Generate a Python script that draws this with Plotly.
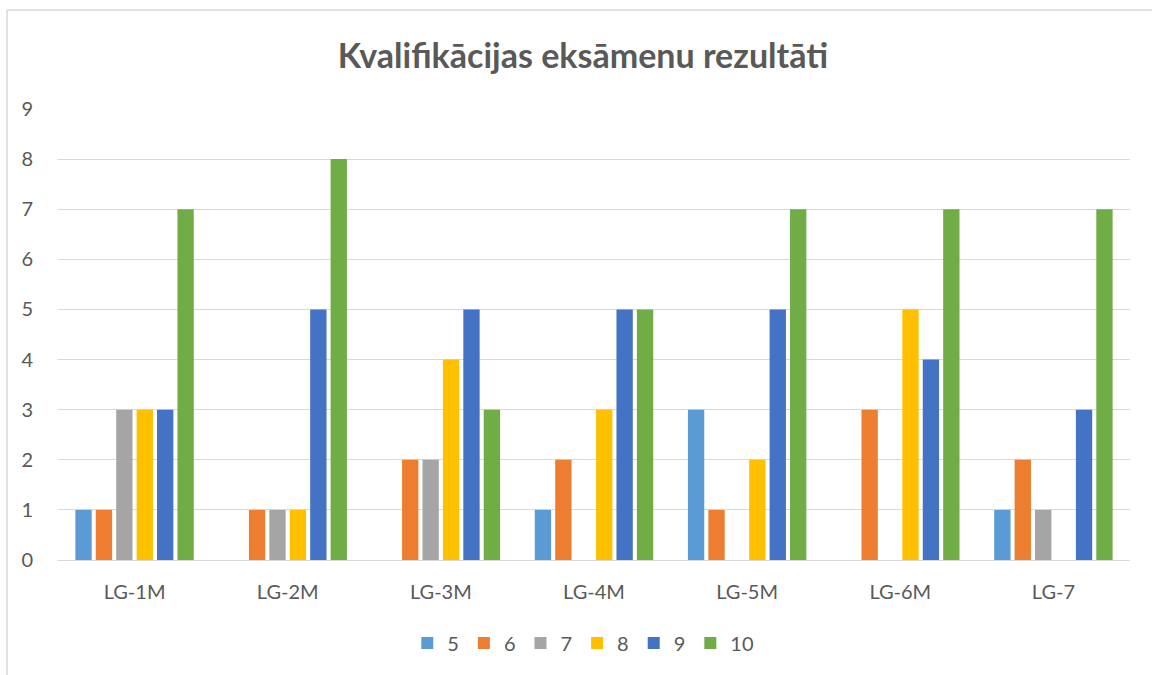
import plotly.graph_objects as go

categories = ["LG-1M", "LG-2M", "LG-3M", "LG-4M", "LG-5M", "LG-6M", "LG-7"]
series_names = ["5", "6", "7", "8", "9", "10"]
values_5 = [1, 0, 0, 1, 3, 0, 1]
values_6 = [1, 1, 2, 2, 1, 3, 2]
values_7 = [3, 1, 2, 0, 0, 0, 1]
values_8 = [3, 1, 4, 3, 2, 5, 0]
values_9 = [3, 5, 5, 5, 5, 4, 3]
values_10 = [7, 8, 3, 5, 7, 7, 7]
colors = ["#5B9BD5", "#ED7D31", "#A5A5A5", "#FFC000", "#4472C4", "#70AD47"]
title_text = "Kvalifikācijas eksāmenu rezultāti"

all_values = [values_5, values_6, values_7, values_8, values_9, values_10]

fig = go.Figure()
for name, vals, col in zip(series_names, all_values, colors):
    fig.add_trace(go.Bar(x=categories, y=vals, name=name, marker=dict(color=col, line=dict(width=0))))

font_family = "Lato, 'Open Sans', sans-serif"
fig.update_layout(
    width=1152, height=675,
    margin=dict(l=58, r=22, t=109, b=115),
    paper_bgcolor="white", plot_bgcolor="white",
    barmode="group", bargap=0.2, bargroupgap=0.2,
    title=dict(text="<b>" + title_text + "</b>", x=0.506, xanchor="center", y=0.917, yanchor="middle",
               font=dict(family=font_family, size=34, color="#595959")),
    font=dict(family=font_family, size=20, color="#595959"),
    showlegend=True,
    legend=dict(orientation="h", x=0.49, xanchor="center", y=-0.184, yanchor="middle",
                font=dict(size=20, color="#595959"), itemwidth=30, traceorder="normal"),
    xaxis=dict(showgrid=False, showline=True, linecolor="#D9D9D9", linewidth=1,
               ticks="outside", ticklen=14, tickcolor="rgba(0,0,0,0)",
               tickfont=dict(size=20, color="#595959")),
    yaxis=dict(range=[0, 9], dtick=1, showgrid=True, gridcolor="#D9D9D9", gridwidth=1,
               zeroline=False, showline=False,
               ticks="outside", ticklen=20, tickcolor="rgba(0,0,0,0)",
               tickfont=dict(size=20, color="#595959")),
    shapes=[
        dict(type="line", xref="paper", yref="paper", x0=-0.0476, x1=1.05, y0=1.2195, y1=1.2195,
             line=dict(color="#D9D9D9", width=1.5)),
        dict(type="line", xref="paper", yref="paper", x0=-0.0476, x1=-0.0476, y0=1.2195, y1=-0.3,
             line=dict(color="#D9D9D9", width=1.5)),
    ],
)

fig.write_html("out.html", config={"displayModeBar": False},
               post_script="document.body.style.margin='0';")
